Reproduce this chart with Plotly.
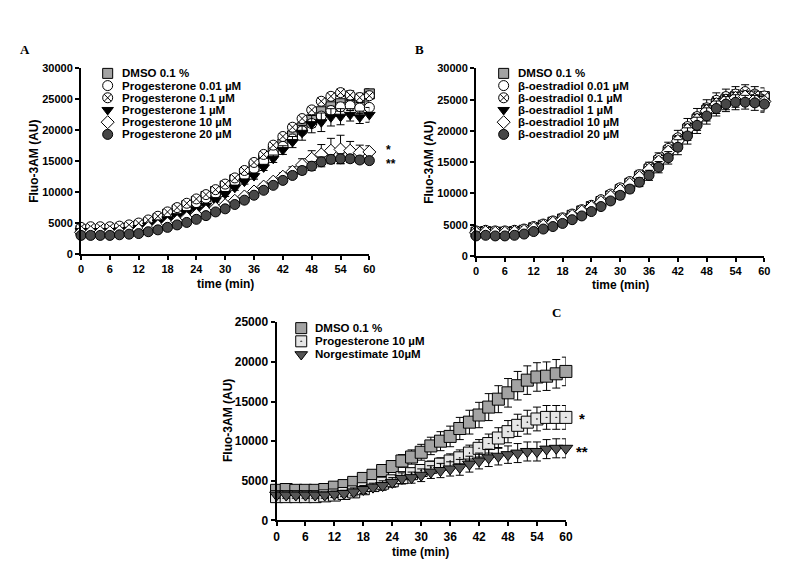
import plotly.graph_objects as go

# ---------------- data ----------------
time_min = [0, 2, 4, 6, 8, 10, 12, 14, 16, 18, 20, 22, 24, 26, 28, 30,
            32, 34, 36, 38, 40, 42, 44, 46, 48, 50, 52, 54, 56, 58, 60]

# Panel A
a_dmso = [3800, 3900, 3900, 3900, 3900, 4100, 4500, 5000, 5700, 6400, 7100, 7800, 8500, 9300, 10100, 11000,
          12000, 13000, 14100, 15300, 16600, 17800, 19100, 20400, 21700, 23000, 23800, 24300, 24500, 24800, 25900]
a_p001 = [4000, 4100, 4100, 4100, 4200, 4300, 4600, 5100, 5600, 6300, 7000, 7600, 8300, 9000, 9800, 10700,
          11700, 12700, 13800, 15000, 16200, 17400, 18600, 19900, 21100, 22300, 23200, 23800, 24000, 23600, 23700]
a_p01 = [4300, 4400, 4400, 4400, 4500, 4700, 5000, 5500, 6100, 6800, 7500, 8200, 8900, 9600, 10400, 11300,
         12300, 13500, 14800, 16100, 17600, 19000, 20500, 21900, 23300, 24700, 25500, 26100, 25700, 25300, 25600]
a_p1 = [3700, 3700, 3700, 3700, 3800, 3900, 4200, 4600, 5100, 5600, 6100, 6600, 7100, 7800, 8700, 9700,
        10700, 11700, 12600, 14000, 15400, 16800, 18100, 19600, 21000, 21300, 22100, 22200, 22500, 22100, 22500]
a_p10 = [3500, 3500, 3500, 3500, 3600, 3700, 3900, 4200, 4500, 4900, 5300, 5800, 6300, 6900, 7400, 7900,
         8600, 9300, 10100, 10900, 11700, 12500, 13300, 14400, 15400, 16100, 16700, 16900, 16700, 16400, 16500]
a_p20 = [3000, 3000, 3000, 3000, 3100, 3200, 3300, 3600, 3900, 4300, 4700, 5100, 5600, 6200, 6800, 7300,
         8000, 8700, 9500, 10300, 11100, 11900, 12700, 13500, 14200, 14900, 15300, 15400, 15400, 15200, 15100]

a_err_dmso = [300, 300, 300, 300, 300, 300, 300, 300, 300, 300, 300, 300, 300, 300, 300, 400,
              400, 400, 400, 400, 500, 500, 500, 500, 600, 600, 600, 700, 700, 800, 800]
a_err_p001 = [300, 300, 300, 300, 300, 300, 300, 300, 300, 300, 300, 300, 300, 300, 300, 300,
              400, 400, 400, 400, 400, 500, 500, 500, 600, 600, 700, 700, 800, 900, 900]
a_err_p01 = [300, 300, 300, 300, 300, 300, 300, 300, 300, 300, 300, 300, 300, 300, 300, 300,
             300, 400, 400, 400, 400, 400, 500, 500, 500, 600, 600, 600, 700, 700, 700]
a_err_p1 = [300, 300, 300, 300, 300, 300, 300, 300, 300, 300, 300, 300, 300, 300, 300, 400,
            400, 400, 500, 500, 600, 700, 900, 1200, 1400, 1500, 1400, 1300, 1000, 1000, 1200]
a_err_p10 = [300, 300, 300, 300, 300, 300, 300, 300, 300, 300, 300, 300, 300, 300, 300, 300,
             400, 400, 400, 500, 500, 600, 800, 1000, 1300, 1600, 2000, 2300, 1500, 1200, 1000]
a_err_p20 = [300, 300, 300, 300, 300, 300, 300, 300, 300, 300, 300, 300, 300, 300, 300, 300,
             300, 300, 400, 400, 400, 500, 500, 600, 700, 800, 700, 800, 600, 500, 400]

# Panel B
b_dmso = [3800, 3900, 3800, 3800, 3900, 4100, 4500, 4900, 5400, 5900, 6500, 7200, 7900, 8700, 9600, 10600,
          11600, 12700, 13900, 15200, 16800, 18500, 20300, 21900, 23300, 24300, 25000, 25500, 25600, 25300, 25500]
b_e001 = [3900, 4000, 3900, 3900, 4000, 4200, 4600, 5000, 5500, 6000, 6600, 7300, 8000, 8900, 9800, 10800,
          11800, 12900, 14100, 15400, 17000, 18700, 20500, 22100, 23600, 24700, 25300, 25800, 26000, 25400, 24800]
b_e01 = [4000, 4100, 4000, 4000, 4100, 4300, 4700, 5100, 5600, 6100, 6700, 7400, 8100, 9000, 9900, 10900,
         11900, 13000, 14200, 15600, 17200, 18900, 20700, 22300, 23700, 24900, 25500, 25900, 26300, 25900, 25600]
b_e1 = [3500, 3600, 3500, 3500, 3600, 3800, 4100, 4500, 5000, 5500, 6100, 6700, 7400, 8200, 9100, 10100,
        11100, 12200, 13400, 14800, 16400, 18000, 19800, 21400, 22900, 24000, 24600, 25000, 25300, 25200, 24500]
b_e10 = [3700, 3800, 3700, 3700, 3800, 4000, 4400, 4800, 5300, 5800, 6400, 7100, 7800, 8600, 9500, 10500,
         11500, 12600, 13800, 15100, 16700, 18400, 20200, 21800, 23200, 24300, 24900, 25300, 25500, 25000, 24700]
b_e20 = [3200, 3300, 3200, 3200, 3300, 3500, 3900, 4300, 4700, 5200, 5800, 6400, 7100, 7900, 8800, 9700,
         10700, 11800, 12900, 14200, 15700, 17400, 19200, 20900, 22400, 23600, 24300, 24600, 24600, 24500, 24300]

b_err = [300, 300, 300, 300, 300, 300, 300, 300, 300, 300, 400, 400, 400, 500, 500, 600,
         600, 700, 800, 900, 1000, 1200, 1300, 1300, 1300, 1200, 1200, 1200, 1100, 1200, 1300]
b_err_small = [300, 300, 300, 300, 300, 300, 300, 300, 300, 300, 300, 300, 300, 300, 400, 400,
               400, 500, 500, 600, 600, 700, 700, 800, 800, 800, 800, 800, 800, 800, 800]

# Panel C
c_dmso = [3800, 3900, 3800, 3800, 3800, 3900, 4200, 4400, 4800, 5300, 5700, 6300, 6800, 7500, 8000, 8600,
          9400, 10000, 10600, 11600, 12400, 13300, 14300, 15300, 16100, 17000, 17700, 18100, 18200, 18500, 18800]
c_p10 = [3000, 3000, 3000, 3000, 3000, 3100, 3200, 3400, 3600, 4000, 4400, 4700, 5000, 5400, 5900, 6300,
         6700, 7100, 7500, 7900, 8500, 9100, 9700, 10400, 11200, 12000, 12400, 12800, 13000, 13000, 13000]
c_norg = [3200, 3200, 3200, 3200, 3200, 3200, 3300, 3400, 3600, 3900, 4200, 4400, 4800, 5300, 5400, 5700,
          6100, 6300, 6500, 6700, 7100, 7500, 7900, 8100, 8300, 8500, 8700, 8700, 9000, 9100, 9100]

c_err_dmso = [500, 500, 500, 500, 500, 500, 500, 500, 500, 600, 600, 700, 700, 800, 900, 1000,
              1100, 1200, 1300, 1400, 1500, 1600, 1700, 1700, 1800, 1800, 1800, 1800, 1800, 1800, 1800]
c_err_p10 = [500, 500, 500, 500, 500, 500, 500, 500, 500, 500, 500, 600, 600, 600, 700, 700,
             800, 800, 900, 1000, 1000, 1100, 1200, 1300, 1400, 1400, 1500, 1500, 1500, 1500, 1500]
c_err_norg = [400, 400, 400, 400, 400, 400, 400, 400, 500, 500, 500, 600, 600, 700, 700, 800,
              800, 900, 900, 1000, 1000, 1000, 1100, 1100, 1100, 1200, 1200, 1200, 1200, 1200, 1200]

x_ticks = [0, 6, 12, 18, 24, 30, 36, 42, 48, 54, 60]
y_ticks_ab = [0, 5000, 10000, 15000, 20000, 25000, 30000]
y_ticklabels_ab = ["0", "5000", "10000", "15000", "20000", "25000", "30000"]
y_ticks_c = [0, 5000, 10000, 15000, 20000, 25000]
y_ticklabels_c = ["0", "5000", "10000", "15000", "20000", "25000"]

labels_a = ["DMSO 0.1 %", "Progesterone 0.01 µM", "Progesterone 0.1 µM",
            "Progesterone 1 µM", "Progesterone 10 µM", "Progesterone 20 µM"]
labels_b = ["DMSO 0.1 %", "β-oestradiol 0.01 µM", "β-oestradiol 0.1 µM",
            "β-oestradiol 1 µM", "β-oestradiol 10 µM", "β-oestradiol 20 µM"]
labels_c = ["DMSO 0.1 %", "Progesterone 10 µM", "Norgestimate 10µM"]

# ---------------- styles ----------------
W, H = 800, 586
FONT = "Arial, Liberation Sans, sans-serif"
GREY = "#a3a3a3"
DARK = "#474747"
styles6 = [
    dict(symbol="square", color=GREY),
    dict(symbol="circle", color="white"),
    dict(symbol="circle-x", color="white"),
    dict(symbol="triangle-down", color="black"),
    dict(symbol="diamond", color="white"),
    dict(symbol="circle", color=DARK),
]
styles3 = [
    dict(symbol="square", color=GREY),
    dict(symbol="square-dot", color="#e6e6e6"),
    dict(symbol="triangle-down", color="#555555"),
]

fig = go.Figure()


def add_series(ys, errs, st, size, xa, ya):
    fig.add_trace(go.Scatter(
        x=time_min, y=ys, mode="markers", xaxis=xa, yaxis=ya, showlegend=False,
        cliponaxis=False,
        marker=dict(symbol=st["symbol"], color=st["color"], size=size,
                    line=dict(color="black", width=1)),
        error_y=dict(type="data", array=errs, color="black", thickness=1, width=4),
    ))


for ys, es, st in zip([a_dmso, a_p001, a_p01, a_p1, a_p10, a_p20],
                      [a_err_dmso, a_err_p001, a_err_p01, a_err_p1, a_err_p10, a_err_p20], styles6):
    add_series(ys, es, st, 10, "x", "y")

for ys, es, st in zip([b_dmso, b_e001, b_e01, b_e1, b_e10, b_e20],
                      [b_err_small, b_err_small, b_err, b_err, b_err_small, b_err], styles6):
    add_series(ys, es, st, 10, "x2", "y2")

for ys, es, st in zip([c_dmso, c_p10, c_norg], [c_err_dmso, c_err_p10, c_err_norg], styles3):
    add_series(ys, es, st, 12, "x3", "y3")

# ---------------- legends (overlay pixel axis) ----------------
annotations = []


def add_legend(labels, sty, x0, y0, dy, size):
    for i, (lab, st) in enumerate(zip(labels, sty)):
        yy = y0 + i * dy
        fig.add_trace(go.Scatter(
            x=[x0], y=[yy], mode="markers", xaxis="x4", yaxis="y4", showlegend=False,
            cliponaxis=False,
            marker=dict(symbol=st["symbol"], color=st["color"], size=size,
                        line=dict(color="black", width=1))))
        annotations.append(dict(x=x0 + 12, y=yy, xref="x4", yref="y4", text=lab,
                                showarrow=False, xanchor="left", yanchor="middle",
                                font=dict(family=FONT, size=11.5, color="black", weight="bold")))


add_legend(labels_a, styles6, 106, 68, 12.5, 10)
add_legend(labels_b, styles6, 507, 68, 12.5, 10)
add_legend(labels_c, styles3, 302, 329, 13.5, 11)


def txt(x, y, t, size=12, family=FONT, angle=0, xanchor="center"):
    annotations.append(dict(x=x, y=y, xref="x4", yref="y4", text=t, showarrow=False,
                            xanchor=xanchor, yanchor="middle", textangle=angle,
                            font=dict(family=family, size=size, color="black", weight="bold")))


SERIF = "Times New Roman, Liberation Serif, serif"
txt(22, 44, "A", 13, SERIF)
txt(422, 44, "B", 13, SERIF)
txt(561, 313, "C", 13, SERIF)
txt(32, 158, "Fluo-3AM (AU)", 12, angle=-90)
txt(432, 159, "Fluo-3AM (AU)", 12, angle=-90)
txt(228, 424, "Fluo-3AM (AU)", 12, angle=-90)
txt(225, 284, "time (min)", 12)
txt(625, 285, "time (min)", 12)
txt(423, 558, "time (min)", 12)
txt(386, 147, "*", 12, xanchor="left")
txt(386, 161, "**", 12, xanchor="left")
txt(586, 422, "*", 15)
txt(586, 455, "**", 15)

# ---------------- axes ----------------
def xax(d0, d1, anchor, fs):
    return dict(domain=[d0 / W, d1 / W], anchor=anchor, range=[0, 60], tickvals=x_ticks,
                showline=True, linewidth=2, linecolor="black", ticks="outside", ticklen=4,
                tickwidth=1.5, tickcolor="black", showgrid=False, zeroline=False,
                tickfont=dict(family=FONT, size=fs, color="black", weight="bold"))


def yax(p0, p1, anchor, ymax, ticks, ticklabels, fs):
    return dict(domain=[1 - p0 / H, 1 - p1 / H], anchor=anchor, range=[0, ymax],
                tickvals=ticks, ticktext=ticklabels,
                showline=True, linewidth=2, linecolor="black", ticks="outside", ticklen=4,
                tickwidth=1.5, tickcolor="black", showgrid=False, zeroline=False,
                tickfont=dict(family=FONT, size=fs, color="black", weight="bold"))


fig.update_layout(
    width=W, height=H, margin=dict(l=0, r=0, t=0, b=0),
    paper_bgcolor="white", plot_bgcolor="rgba(0,0,0,0)", showlegend=False,
    xaxis=xax(79, 371, "y", 11),
    yaxis=yax(253, 63, "x", 30000, y_ticks_ab, y_ticklabels_ab, 11),
    xaxis2=xax(479, 771, "y2", 11),
    yaxis2=yax(255, 63, "x2", 30000, y_ticks_ab, y_ticklabels_ab, 11),
    xaxis3=xax(277, 570, "y3", 12),
    yaxis3=yax(526, 323, "x3", 25000, y_ticks_c, y_ticklabels_c, 12),
    xaxis4=dict(domain=[0, 1], range=[0, W], visible=False, anchor="y4", fixedrange=True),
    yaxis4=dict(domain=[0, 1], range=[H, 0], visible=False, anchor="x4", fixedrange=True),
    annotations=annotations,
)

fig.write_html("out.html", config={"displayModeBar": False},
               post_script="document.body.style.margin='0';")
